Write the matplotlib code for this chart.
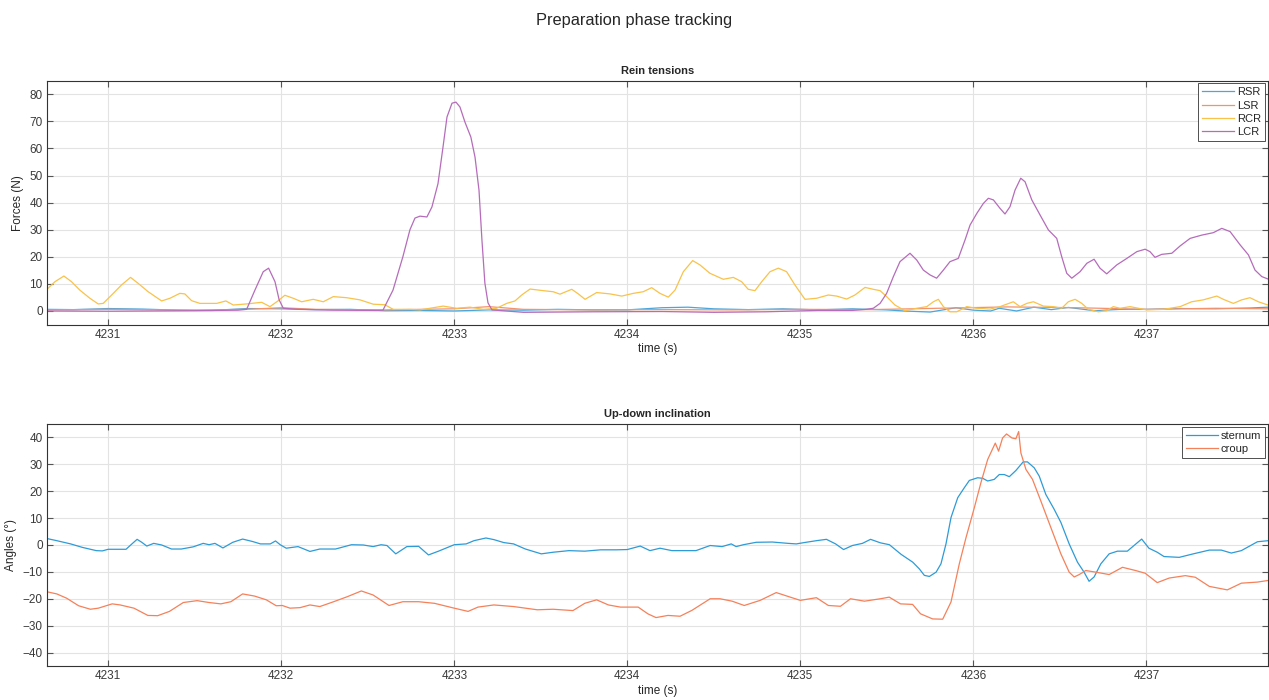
import numpy as np
import matplotlib
matplotlib.use('Agg')
import matplotlib.pyplot as plt

plt.rcParams['font.family'] = ['Liberation Sans', 'DejaVu Sans']
params = {'xtick.top': True, 'ytick.right': True, 'xtick.direction': 'in', 'ytick.direction': 'in'}
plt.rcParams.update(params)
plt.rcParams['text.color'] = '#262626'
plt.rcParams['axes.labelcolor'] = '#262626'
plt.rcParams['xtick.labelcolor'] = '#3a3a3a'
plt.rcParams['ytick.labelcolor'] = '#3a3a3a'

# ---------------- data ----------------
# Rein tensions, forces in N
rsr_t = [4230.646, 4230.8, 4231.0, 4231.2, 4231.4, 4231.6, 4231.8, 4232.0, 4232.2, 4232.4,
         4232.6, 4232.8, 4233.0, 4233.2, 4233.4, 4233.6, 4233.8, 4234.0, 4234.2, 4234.35,
         4234.5, 4234.7, 4234.9, 4235.1, 4235.3, 4235.5, 4235.6, 4235.75, 4235.9, 4236.0,
         4236.1, 4236.15, 4236.25, 4236.35, 4236.45, 4236.55, 4236.7, 4236.85, 4237.0, 4237.2,
         4237.4, 4237.6, 4237.703]
rsr_v = [0.6, 0.5, 0.9, 0.7, 0.3, 0.2, 0.9, 0.8, 0.5, 0.6,
         0.1, 0.2, 0.0, 0.4, 0.3, 0.6, 0.4, 0.4, 1.2, 1.4,
         0.8, 0.5, 0.8, 0.4, 0.8, 0.4, 0.0, -0.4, 1.2, 0.3,
         0.0, 1.0, 0.0, 1.4, 0.5, 1.3, 0.1, 0.6, 0.6, 0.9,
         0.8, 1.1, 1.4]

lsr_t = [4230.646, 4231.0, 4231.5, 4231.8, 4232.0, 4232.2, 4232.6, 4233.0, 4233.2, 4233.4,
         4233.8, 4234.2, 4234.6, 4235.0, 4235.4, 4235.8, 4236.2, 4236.6, 4237.0, 4237.4, 4237.703]
lsr_v = [0.4, 0.6, 0.3, 0.6, 1.2, 0.6, 0.4, 0.8, 1.6, 0.6,
         0.4, 0.5, 0.4, 0.6, 0.5, 1.0, 1.5, 1.2, 0.6, 1.0, 0.8]

rcr_t = [4230.646, 4230.692, 4230.744, 4230.788, 4230.836, 4230.894, 4230.942, 4230.971, 4231.020, 4231.077,
         4231.129, 4231.173, 4231.231, 4231.309, 4231.357, 4231.414, 4231.443, 4231.482, 4231.530, 4231.627,
         4231.680, 4231.723, 4231.800, 4231.887, 4231.935, 4231.983, 4232.021, 4232.069, 4232.118, 4232.185,
         4232.243, 4232.301, 4232.378, 4232.455, 4232.532, 4232.599, 4232.647, 4232.744, 4232.802, 4232.936,
         4233.014, 4233.091, 4233.168, 4233.245, 4233.303, 4233.351, 4233.390, 4233.438, 4233.514, 4233.572,
         4233.611, 4233.679, 4233.717, 4233.756, 4233.823, 4233.900, 4233.968, 4234.035, 4234.092, 4234.141,
         4234.189, 4234.237, 4234.276, 4234.324, 4234.378, 4234.420, 4234.478, 4234.555, 4234.613, 4234.661,
         4234.699, 4234.738, 4234.777, 4234.825, 4234.873, 4234.921, 4234.969, 4235.027, 4235.095, 4235.162,
         4235.210, 4235.268, 4235.316, 4235.374, 4235.422, 4235.461, 4235.499, 4235.547, 4235.605, 4235.673,
         4235.731, 4235.769, 4235.798, 4235.827, 4235.865, 4235.904, 4235.962, 4236.020, 4236.097, 4236.154,
         4236.197, 4236.231, 4236.270, 4236.309, 4236.347, 4236.405, 4236.462, 4236.511, 4236.549, 4236.588,
         4236.627, 4236.665, 4236.723, 4236.771, 4236.809, 4236.848, 4236.906, 4236.954, 4237.002, 4237.098,
         4237.195, 4237.262, 4237.329, 4237.407, 4237.445, 4237.503, 4237.551, 4237.599, 4237.647, 4237.703]
rcr_v = [8.0, 10.8, 12.9, 10.8, 7.7, 4.7, 2.6, 2.8, 5.9, 9.6,
         12.4, 10.2, 7.1, 3.7, 4.7, 6.5, 6.3, 3.8, 2.8, 2.8,
         3.7, 2.2, 2.6, 3.2, 1.6, 3.8, 5.8, 4.7, 3.4, 4.3,
         3.4, 5.3, 4.9, 4.1, 2.5, 2.3, 0.6, 0.6, 0.4, 1.8,
         1.0, 1.4, 0.6, 1.0, 2.8, 3.7, 5.9, 8.1, 7.5, 7.1,
         6.2, 8.0, 6.3, 4.3, 6.8, 6.3, 5.5, 6.5, 7.1, 8.6,
         6.5, 5.1, 7.7, 14.5, 18.6, 17.0, 13.9, 11.7, 12.4, 10.8,
         8.0, 7.5, 10.8, 14.5, 15.8, 14.5, 9.6, 4.3, 4.7, 5.9,
         5.5, 4.4, 5.9, 8.7, 8.0, 7.5, 5.3, 2.2, 0.1, 1.0,
         1.6, 3.4, 4.3, 1.6, -0.3, -0.3, 1.6, 1.0, 0.7, 1.6,
         2.6, 3.4, 1.6, 2.8, 3.4, 1.8, 1.6, 1.0, 3.4, 4.3,
         2.8, 0.6, -0.3, 0.1, 1.6, 1.0, 1.6, 1.0, 0.4, 0.6,
         1.6, 3.4, 4.1, 5.5, 4.3, 2.8, 4.1, 4.9, 3.4, 2.2]

lcr_t = [4230.646, 4231.0, 4231.5, 4231.75, 4231.800, 4231.848, 4231.896, 4231.927, 4231.964, 4231.988,
         4232.012, 4232.1, 4232.3, 4232.55, 4232.588, 4232.646, 4232.703, 4232.744, 4232.773, 4232.802,
         4232.842, 4232.871, 4232.906, 4232.935, 4232.958, 4232.987, 4233.010, 4233.033, 4233.062, 4233.096,
         4233.120, 4233.143, 4233.160, 4233.177, 4233.195, 4233.218, 4233.4, 4233.8, 4234.2, 4234.5,
         4234.8, 4235.1, 4235.3, 4235.38, 4235.422, 4235.461, 4235.499, 4235.538, 4235.576, 4235.634,
         4235.673, 4235.711, 4235.750, 4235.788, 4235.827, 4235.865, 4235.913, 4235.952, 4235.981, 4236.020,
         4236.058, 4236.087, 4236.116, 4236.154, 4236.183, 4236.212, 4236.241, 4236.274, 4236.299, 4236.338,
         4236.386, 4236.434, 4236.482, 4236.511, 4236.540, 4236.569, 4236.617, 4236.656, 4236.698, 4236.732,
         4236.771, 4236.829, 4236.887, 4236.945, 4236.993, 4237.021, 4237.050, 4237.089, 4237.147, 4237.195,
         4237.253, 4237.320, 4237.387, 4237.436, 4237.484, 4237.542, 4237.590, 4237.628, 4237.667, 4237.703]
lcr_v = [0.0, -0.1, 0.1, 0.3, 0.6, 7.7, 14.5, 15.8, 10.8, 4.1,
         1.0, 0.6, 0.3, 0.2, 0.3, 7.7, 20.0, 30.0, 34.3, 35.0,
         34.7, 38.4, 47.0, 60.5, 71.6, 76.7, 77.1, 75.3, 69.7, 64.2,
         56.8, 44.6, 26.2, 10.3, 3.0, 0.4, -0.5, -0.3, -0.2, -0.5,
         -0.3, 0.2, 0.2, 0.6, 1.0, 2.8, 6.5, 12.7, 18.2, 21.3,
         18.8, 15.1, 13.3, 12.1, 15.1, 18.2, 19.4, 26.2, 31.7, 36.0,
         39.7, 41.6, 41.0, 37.9, 35.8, 38.5, 44.6, 49.0, 47.7, 41.0,
         35.4, 29.9, 26.8, 20.0, 13.9, 12.1, 14.5, 17.6, 19.1, 15.8,
         13.7, 17.0, 19.4, 21.9, 22.8, 21.9, 19.8, 20.9, 21.3, 24.0,
         26.8, 28.0, 28.9, 30.5, 29.3, 24.4, 20.7, 15.1, 12.7, 11.8]

# Up-down inclination, angles in degrees
sternum_t = [4230.646, 4230.703, 4230.783, 4230.851, 4230.931, 4230.966, 4231.000, 4231.103, 4231.137, 4231.167,
             4231.194, 4231.223, 4231.263, 4231.309, 4231.366, 4231.423, 4231.491, 4231.549, 4231.583, 4231.617,
             4231.663, 4231.720, 4231.777, 4231.834, 4231.880, 4231.937, 4231.967, 4231.994, 4232.029, 4232.097,
             4232.131, 4232.166, 4232.223, 4232.314, 4232.406, 4232.474, 4232.531, 4232.577, 4232.611, 4232.662,
             4232.726, 4232.794, 4232.851, 4232.909, 4233.000, 4233.069, 4233.114, 4233.183, 4233.229, 4233.286,
             4233.343, 4233.411, 4233.503, 4233.571, 4233.663, 4233.754, 4233.846, 4233.937, 4234.000, 4234.075,
             4234.131, 4234.189, 4234.258, 4234.397, 4234.479, 4234.548, 4234.601, 4234.629, 4234.671, 4234.745,
             4234.838, 4234.930, 4234.977, 4235.023, 4235.093, 4235.151, 4235.204, 4235.250, 4235.301, 4235.359,
             4235.406, 4235.463, 4235.515, 4235.583, 4235.650, 4235.688, 4235.717, 4235.746, 4235.785, 4235.813,
             4235.842, 4235.871, 4235.910, 4235.948, 4235.977, 4236.025, 4236.054, 4236.083, 4236.121, 4236.150,
             4236.179, 4236.208, 4236.246, 4236.288, 4236.313, 4236.352, 4236.381, 4236.419, 4236.467, 4236.506,
             4236.554, 4236.602, 4236.640, 4236.669, 4236.698, 4236.737, 4236.785, 4236.833, 4236.890, 4236.929,
             4236.973, 4237.015, 4237.063, 4237.102, 4237.190, 4237.271, 4237.364, 4237.433, 4237.491, 4237.549,
             4237.642, 4237.703]
sternum_v = [2.4, 1.6, 0.4, -0.9, -2.1, -2.2, -1.6, -1.6, 0.4, 2.1,
             1.0, -0.4, 0.6, 0.0, -1.5, -1.5, -0.7, 0.6, 0.1, 0.6,
             -1.1, 1.0, 2.2, 1.3, 0.4, 0.4, 1.5, 0.1, -1.2, -0.6,
             -1.5, -2.4, -1.5, -1.5, 0.1, 0.0, -0.6, 0.1, -0.2, -3.3,
             -0.6, -0.5, -3.7, -2.3, 0.1, 0.4, 1.6, 2.6, 2.0, 0.9,
             0.4, -1.5, -3.3, -2.7, -2.1, -2.3, -1.8, -1.8, -1.7, -0.4,
             -2.1, -1.2, -2.1, -2.1, -0.2, -0.6, 0.4, -0.6, 0.1, 1.0,
             1.1, 0.6, 0.4, 0.9, 1.6, 2.1, 0.4, -1.7, -0.2, 0.6,
             2.1, 0.8, 0.1, -3.5, -6.4, -8.9, -11.3, -11.7, -10.1, -7.0,
             0.4, 10.2, 17.6, 21.3, 24.0, 25.0, 24.8, 23.8, 24.4, 26.2,
             26.2, 25.4, 27.7, 30.9, 30.9, 28.7, 25.6, 18.8, 13.3, 8.4,
             0.4, -6.4, -10.1, -13.5, -11.9, -7.0, -3.3, -2.3, -2.3, -0.2,
             2.2, -1.2, -2.7, -4.3, -4.6, -3.3, -1.9, -1.9, -3.0, -2.1,
             1.2, 1.6]

croup_t = [4230.646, 4230.703, 4230.760, 4230.829, 4230.897, 4230.943, 4231.023, 4231.069, 4231.149, 4231.229,
           4231.286, 4231.354, 4231.434, 4231.514, 4231.583, 4231.651, 4231.709, 4231.777, 4231.846, 4231.914,
           4231.971, 4232.006, 4232.051, 4232.109, 4232.166, 4232.223, 4232.303, 4232.383, 4232.463, 4232.531,
           4232.623, 4232.703, 4232.794, 4232.886, 4233.000, 4233.080, 4233.137, 4233.229, 4233.343, 4233.480,
           4233.571, 4233.686, 4233.754, 4233.823, 4233.891, 4233.960, 4234.063, 4234.119, 4234.166, 4234.235,
           4234.305, 4234.374, 4234.479, 4234.536, 4234.606, 4234.676, 4234.768, 4234.861, 4234.942, 4235.000,
           4235.093, 4235.162, 4235.232, 4235.290, 4235.371, 4235.463, 4235.514, 4235.579, 4235.649, 4235.695,
           4235.765, 4235.823, 4235.871, 4235.919, 4235.958, 4236.006, 4236.044, 4236.083, 4236.127, 4236.146,
           4236.169, 4236.192, 4236.223, 4236.246, 4236.262, 4236.275, 4236.304, 4236.342, 4236.390, 4236.448,
           4236.506, 4236.554, 4236.583, 4236.612, 4236.650, 4236.708, 4236.785, 4236.862, 4236.938, 4236.993,
           4237.063, 4237.132, 4237.225, 4237.283, 4237.364, 4237.468, 4237.549, 4237.642, 4237.703]
croup_v = [-17.4, -18.2, -19.8, -22.6, -23.9, -23.5, -21.9, -22.3, -23.5, -26.2,
           -26.3, -24.7, -21.4, -20.7, -21.4, -21.9, -21.1, -18.2, -19.0, -20.4,
           -22.6, -22.5, -23.5, -23.3, -22.3, -22.9, -21.1, -19.2, -17.1, -18.6,
           -22.5, -21.1, -21.1, -21.7, -23.5, -24.7, -23.1, -22.3, -22.9, -24.1,
           -23.9, -24.4, -21.7, -20.4, -22.3, -23.1, -23.1, -25.6, -27.0, -26.2,
           -26.5, -24.3, -20.0, -20.0, -20.9, -22.5, -20.6, -17.7, -19.4, -20.6,
           -19.6, -22.5, -22.8, -20.0, -20.9, -20.0, -19.4, -21.9, -22.1, -25.6,
           -27.5, -27.6, -21.2, -7.0, 2.8, 13.9, 23.2, 31.8, 37.9, 34.9,
           39.8, 41.3, 39.8, 39.5, 42.2, 34.2, 28.1, 24.4, 16.4, 6.5,
           -3.3, -10.1, -11.9, -11.0, -9.5, -10.1, -11.0, -8.3, -9.5, -10.5,
           -14.0, -12.3, -11.4, -12.0, -15.4, -16.7, -14.2, -13.8, -13.2]

x_ticks = [4231, 4232, 4233, 4234, 4235, 4236, 4237]
x_lim = (4230.646, 4237.703)

# ---------------- figure ----------------
fig = plt.figure(figsize=(12.69, 7.0), dpi=100)
fig.text(0.5, 1 - 20 / 700, 'Preparation phase tracking', ha='center', va='center', fontsize=11.8)

ax1 = fig.add_axes([0.0370, 0.5364, 0.9622, 0.3483])
ax2 = fig.add_axes([0.0370, 0.0486, 0.9622, 0.3457])

lw = 0.9
ax1.plot(rsr_t, rsr_v, color='#4aa6dc', lw=lw, label='RSR')
ax1.plot(lsr_t, lsr_v, color='#f4926c', lw=lw, label='LSR')
ax1.plot(rcr_t, rcr_v, color='#f9c24a', lw=lw, label='RCR')
ax1.plot(lcr_t, lcr_v, color='#b56cba', lw=lw, label='LCR')
ax1.set_ylim(-5, 85)
ax1.set_yticks(range(0, 81, 10))
ax1.set_ylabel('Forces (N)', fontsize=8.5, labelpad=4)
ax1.set_title('Rein tensions', fontsize=8, fontweight='bold', pad=5)

ax2.plot(sternum_t, sternum_v, color='#2e9bd6', lw=lw, label='sternum')
ax2.plot(croup_t, croup_v, color='#f5815a', lw=lw, label='croup')
ax2.set_ylim(-45, 45)
ax2.set_yticks(range(-40, 41, 10))
ax2.set_ylabel('Angles (°)', fontsize=8.5, labelpad=4)
ax2.set_title('Up-down inclination', fontsize=8, fontweight='bold', pad=5)

for ax in (ax1, ax2):
    ax.set_xlim(*x_lim)
    ax.set_xticks(x_ticks)
    ax.set_xticklabels([str(v) for v in x_ticks])
    ax.set_xlabel('time (s)', fontsize=8.5, labelpad=2)
    ax.grid(True, color='#e3e3e3', lw=0.8)
    ax.set_axisbelow(True)
    ax.tick_params(labelsize=8.5, length=4, width=0.8, color='#555555', pad=3)
    for s in ax.spines.values():
        s.set_color('#333333')
        s.set_linewidth(0.8)
    leg = ax.legend(loc='upper right', fontsize=8, fancybox=False, framealpha=1,
                    edgecolor='#333333', borderaxespad=0.25, handlelength=2.9,
                    handletextpad=0.25, labelspacing=0.3, borderpad=0.35)
    leg.get_frame().set_linewidth(0.6)

plt.savefig('out.png', dpi=100)
